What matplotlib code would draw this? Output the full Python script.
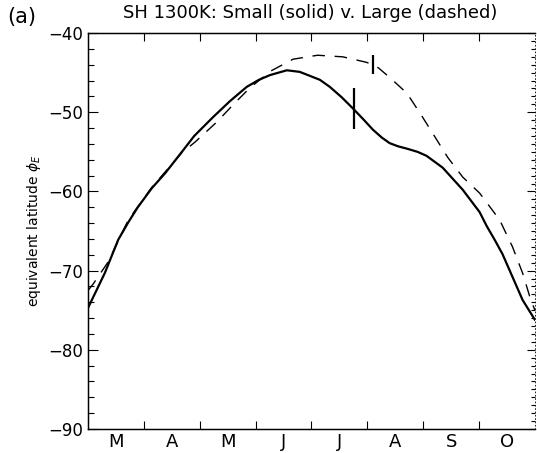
import numpy as np
import matplotlib
matplotlib.use('Agg')
import matplotlib.pyplot as plt
from matplotlib.ticker import MultipleLocator, FixedLocator

# month axis: 0 = start of March, 8 = end of October
months = ['M', 'A', 'M', 'J', 'J', 'A', 'S', 'O']

small_t = [0.00, 0.30, 0.54, 0.72, 0.89, 1.14, 1.38, 1.68, 1.90, 2.24, 2.54,
           2.84, 3.06, 3.26, 3.56, 3.79, 4.15, 4.33, 4.54, 4.74, 4.93, 5.10,
           5.26, 5.40, 5.55, 5.71, 5.90, 6.06, 6.35, 6.71, 7.01, 7.14, 7.28,
           7.42, 7.60, 7.78, 8.00]
small_phi = [-74.7, -70.3, -66.1, -63.9, -62.0, -59.6, -57.7, -55.0, -53.0,
             -50.6, -48.6, -46.8, -45.9, -45.3, -44.7, -44.9, -45.9, -46.8,
             -48.1, -49.5, -50.9, -52.2, -53.2, -53.9, -54.3, -54.6, -55.0,
             -55.5, -57.0, -59.8, -62.6, -64.4, -66.1, -67.9, -70.8, -73.7,
             -76.2]

large_t = [0.00, 0.09, 0.36, 0.72, 1.14, 1.68, 1.91, 2.31, 2.59, 2.90, 3.27,
           3.67, 4.11, 4.56, 4.99, 5.20, 5.40, 5.71, 5.97, 6.21, 6.44, 6.71,
           7.01, 7.37, 7.60, 7.78, 7.91, 8.00]
large_phi = [-72.5, -71.7, -68.9, -63.6, -59.5, -55.1, -53.8, -51.2, -49.1,
             -46.9, -44.8, -43.3, -42.8, -43.0, -43.7, -44.4, -45.6, -47.6,
             -50.4, -53.1, -55.7, -58.2, -60.2, -63.6, -67.0, -70.3, -73.3,
             -75.0]

# short vertical marks on each curve: (time, bottom, top)
small_mark = (4.76, -52.1, -47.0)
large_mark = (5.10, -45.2, -42.8)


def main():
    fig = plt.figure(figsize=(5.37, 4.53), dpi=100)
    ax = fig.add_axes([0.164, 0.053, 0.832, 0.874])

    ax.plot(small_t, small_phi, color='black', lw=1.6)
    ax.plot(large_t, large_phi, color='black', lw=1.0, dashes=(9, 7))
    ax.vlines(small_mark[0], small_mark[1], small_mark[2], color='black', lw=1.6)
    ax.vlines(large_mark[0], large_mark[1], large_mark[2], color='black', lw=1.6)

    ax.set_xlim(0, 8)
    ax.set_ylim(-90, -40)

    ax.xaxis.set_major_locator(FixedLocator(np.arange(1, 8)))
    ax.xaxis.set_minor_locator(FixedLocator(np.arange(8) + 0.5))
    ax.set_xticklabels([], minor=False)
    ax.set_xticklabels(months, minor=True, fontsize=13)
    ax.tick_params(axis='x', which='major', direction='in', length=6,
                   top=True, bottom=True, width=0.8)
    ax.tick_params(axis='x', which='minor', length=0, pad=3)

    ax.yaxis.set_major_locator(MultipleLocator(10))
    ax.yaxis.set_minor_locator(MultipleLocator(2))
    ax.tick_params(axis='y', which='major', direction='in', length=7,
                   labelsize=12, width=0.8, right=False)
    ax.tick_params(axis='y', which='minor', direction='in', length=4,
                   width=0.8, right=False)

    ax2 = ax.twinx()
    ax2.set_ylim(-90, -40)
    ax2.yaxis.set_major_locator(MultipleLocator(10))
    ax2.yaxis.set_minor_locator(MultipleLocator(1))
    ax2.tick_params(axis='y', which='major', direction='in', length=6,
                    width=0.8, labelright=False)
    ax2.tick_params(axis='y', which='minor', direction='in', length=3,
                    width=0.8)
    ax2.spines['right'].set_linewidth(0.6)
    ax2.spines['right'].set_linestyle((0, (1, 3)))

    for s in ['left', 'top', 'bottom']:
        ax.spines[s].set_linewidth(1.0)
    ax.spines['right'].set_visible(False)

    ax.set_ylabel(r'equivalent latitude $\phi_E$', fontsize=10, labelpad=4)
    fig.text(0.578, 0.972, 'SH 1300K: Small (solid) v. Large (dashed)',
             ha='center', va='center', fontsize=13)
    fig.text(0.04, 0.962, '(a)', ha='center', va='center', fontsize=15)

    fig.savefig('out.png', dpi=100)
    return 0


if __name__ == "__main__":
    main()
